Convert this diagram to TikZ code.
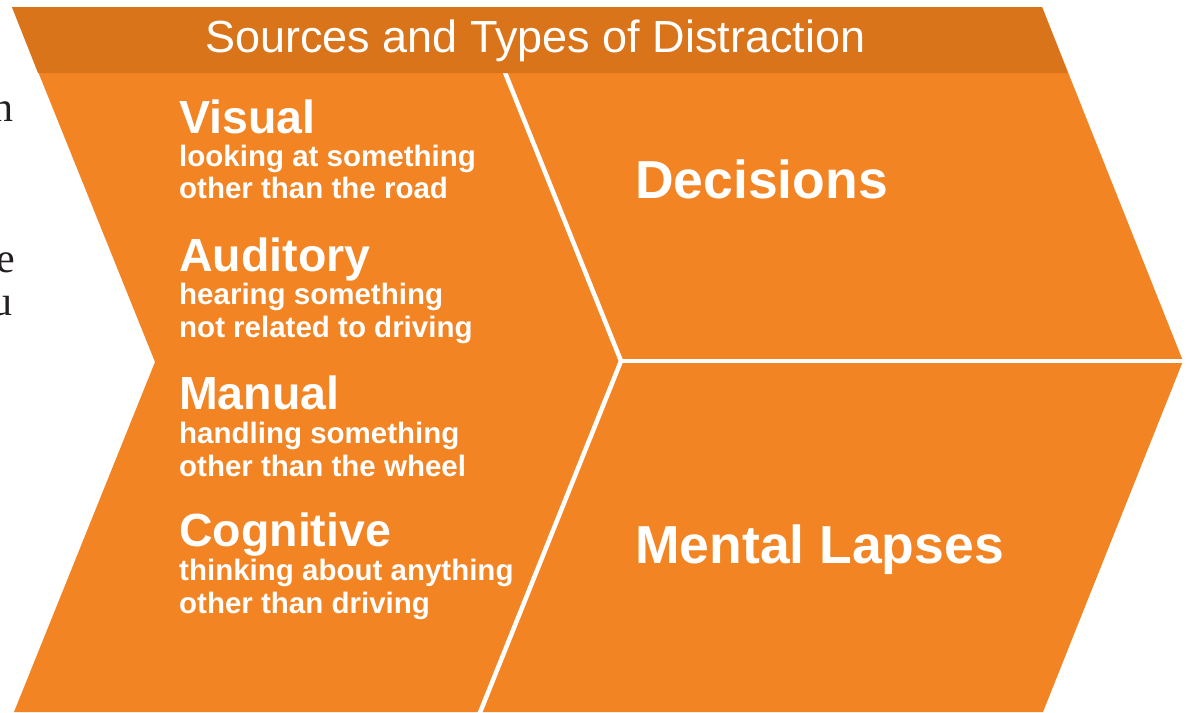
\documentclass[tikz,border=0pt]{standalone}
\usepackage{fontspec}
\setmainfont{Liberation Sans}
\newfontfamily\bookfont{Liberation Serif}
\definecolor{bandorange}{RGB}{218,116,27}
\definecolor{chevorange}{RGB}{243,132,35}
\definecolor{inkgrey}{RGB}{35,31,32}
\tikzset{
	kind/.style={anchor=base west, inner sep=0, text=white, font=\bfseries\fontsize{46.5}{46.5}\selectfont},
	hint/.style={anchor=base west, inner sep=0, text=white, font=\bfseries\fontsize{29.5}{30}\selectfont},
	effect/.style={anchor=base west, inner sep=0, text=white, font=\bfseries\fontsize{53.5}{53.5}\selectfont},
	cutoff/.style={anchor=base east, inner sep=0, text=inkgrey, font=\bookfont\fontsize{42}{42}\selectfont},
	divider/.style={line width=4.5pt, draw=white},
}

\begin{document}
\begin{tikzpicture}[x=1pt, y=-1pt]
			%%%%% START %%%%%
			
			\useasboundingbox (0, 0) rectangle (1190, 712);
			
			% body of the chevron
			\fill[chevorange] (12, 7) -- (1042, 7) -- (1183, 361) -- (1043, 712) -- (14, 712) -- (155, 362) -- cycle;
			
			\draw[divider] (500, 60) -- (621, 361) -- (477, 720);
			\draw[divider] (621, 361) -- (1190, 361);
			
			% header band
			\fill[bandorange] (12, 7) -- (1042, 7) -- (1068, 73) -- (38, 73) -- cycle;
			\node[anchor=base west, inner sep=0, text=white, font=\fontsize{45}{45}\selectfont] (title) at (205, 52) {Sources and Types of Distraction};
			
			% sources
			\node[kind] (visual) at (179, 133) {Visual};
			\node[hint] (visualA) at (179, 166) {looking at something};
			\node[hint] (visualB) at (179, 198) {other than the road};
			
			\node[kind] (auditory) at (179, 271) {Auditory};
			\node[hint] (auditoryA) at (179, 304) {hearing something};
			\node[hint] (auditoryB) at (179, 337) {not related to driving};
			
			\node[kind] (manual) at (179, 409) {Manual};
			\node[hint] (manualA) at (179, 443) {handling something};
			\node[hint] (manualB) at (179, 476) {other than the wheel};
			
			\node[kind] (cognitive) at (179, 546) {Cognitive};
			\node[hint] (cognitiveA) at (179, 580) {thinking about anything};
			\node[hint] (cognitiveB) at (179, 613) {other than driving};
			
			% outcomes
			\node[effect] (decisions) at (635, 198) {Decisions};
			\node[effect] (lapses) at (635, 563) {Mental Lapses};
			
			% page text running off the left edge
			\node[cutoff] (edgeN) at (13.5, 121) {n};
			\node[cutoff] (edgeE) at (15.5, 272) {e};
			\node[cutoff] (edgeU) at (12.5, 315) {u};
			
			%%%%% END %%%%%
\end{tikzpicture}
\end{document}
